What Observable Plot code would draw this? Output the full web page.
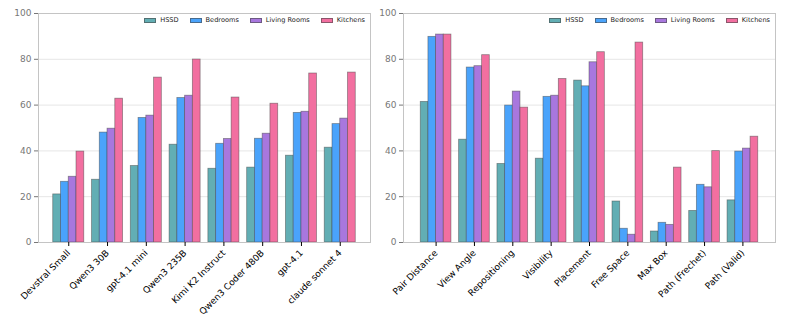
<!DOCTYPE html>
<html>
<head>
<meta charset="utf-8">
<script src="https://cdn.jsdelivr.net/npm/d3@7"></script>
<script src="https://cdn.jsdelivr.net/npm/@observablehq/plot@0.6"></script>
<style>
  html, body { margin: 0; padding: 0; background: #fff; }
  body { width: 785px; height: 327px; overflow: hidden; font-family: "DejaVu Sans", sans-serif; }
  #wrap { display: flex; flex-direction: row; }
  .panel { position: relative; }
  .legend { position: absolute; top: 16px; display: flex; gap: 11px; font-size: 6.6px; color: #222; white-space: nowrap; }
  .legend .item { display: flex; align-items: center; gap: 4px; }
  .legend .sw { width: 12px; height: 5px; box-sizing: border-box; border: 0.6px solid rgba(70,70,70,0.6); }
</style>
</head>
<body>
<div id="wrap"></div>
<script>
// ---- data ----
const series = ["HSSD", "Bedrooms", "Living Rooms", "Kitchens"];
const colors = ["#62aeb4", "#4aa3fb", "#a877de", "#f26fa0"];

const leftCats = ["Devstral Small", "Qwen3 30B", "gpt-4.1 mini", "Qwen3 235B", "Kimi K2 Instruct", "Qwen3 Coder 480B", "gpt-4.1", "claude sonnet 4"];
const leftHSSD     = [21.0, 27.4, 33.4, 42.7, 32.2, 32.7, 37.9, 41.4];
const leftBedrooms = [26.5, 48.0, 54.4, 63.1, 43.1, 45.3, 56.6, 51.7];
const leftLiving   = [28.7, 49.7, 55.4, 64.1, 45.2, 47.5, 57.1, 54.1];
const leftKitchens = [39.7, 62.8, 72.0, 79.9, 63.3, 60.6, 73.8, 74.2];

const rightCats = ["Pair Distance", "View Angle", "Repositioning", "Visibility", "Placement", "Free Space", "Max Box", "Path (Frechet)", "Path (Valid)"];
const rightHSSD     = [61.4, 44.9, 34.3, 36.6, 70.7, 17.9, 4.8, 13.8, 18.4];
const rightBedrooms = [89.8, 76.4, 59.8, 63.6, 68.2, 6.0, 8.6, 25.2, 39.7];
const rightLiving   = [90.8, 77.0, 65.9, 64.1, 78.7, 3.4, 7.7, 24.1, 41.0];
const rightKitchens = [90.8, 81.8, 58.9, 71.4, 83.1, 87.3, 32.7, 39.9, 46.2];

const yTicks = [0, 20, 40, 60, 80, 100];

function buildRows(cats, cols) {
  const rows = [];
  cats.forEach((c, i) => {
    cols.forEach((vals, k) => {
      rows.push({cat: c, i, k, series: series[k], value: vals[i]});
    });
  });
  return rows;
}

function chart(cats, cols, opts) {
  const rows = buildRows(cats, cols);
  const n = cats.length;
  const groupW = 0.8, barW = groupW / series.length;
  return Plot.plot({
    width: opts.width,
    height: 327,
    marginLeft: opts.marginLeft,
    marginRight: opts.marginRight,
    marginTop: 13,
    marginBottom: 85,
    style: {fontFamily: "DejaVu Sans, sans-serif", background: "transparent", overflow: "visible"},
    x: {domain: [-opts.pad, n - 1 + opts.pad]},
    y: {domain: [0, 100]},
    color: {domain: series, range: colors},
    marks: [
      Plot.gridY({ticks: yTicks.slice(1, -1), stroke: "#e6e6e6", strokeOpacity: 1, strokeWidth: 1}),
      Plot.rectY(rows, {
        x1: d => d.i - groupW / 2 + d.k * barW,
        x2: d => d.i - groupW / 2 + (d.k + 1) * barW,
        y: "value",
        fill: "series",
        stroke: "#444",
        strokeOpacity: 0.55,
        strokeWidth: 0.8
      }),
      Plot.frame({stroke: "#c4c4c4", strokeWidth: 1}),
      Plot.axisY({ticks: yTicks, tickSize: 4, tickPadding: 3, color: "#777", fontSize: 9, label: null}),
      Plot.axisX({
        ticks: d3.range(n),
        tickFormat: i => cats[i],
        tickRotate: -45,
        tickSize: 4,
        tickPadding: 5,
        fontSize: 9,
        color: "#000",
        label: null
      })
    ]
  });
}

function legend(rightOffset) {
  const div = document.createElement("div");
  div.className = "legend";
  div.style.right = rightOffset + "px";
  series.forEach((s, k) => {
    const item = document.createElement("div");
    item.className = "item";
    const sw = document.createElement("span");
    sw.className = "sw";
    sw.style.background = colors[k];
    const t = document.createElement("span");
    t.textContent = s;
    item.appendChild(sw);
    item.appendChild(t);
    div.appendChild(item);
  });
  return div;
}

const wrap = document.getElementById("wrap");

const p1 = document.createElement("div");
p1.className = "panel";
p1.appendChild(chart(leftCats, [leftHSSD, leftBedrooms, leftLiving, leftKitchens], {width: 370, marginLeft: 38, marginRight: 0, pad: 0.78}));
p1.appendChild(legend(5));
wrap.appendChild(p1);

const p2 = document.createElement("div");
p2.className = "panel";
p2.appendChild(chart(rightCats, [rightHSSD, rightBedrooms, rightLiving, rightKitchens], {width: 415, marginLeft: 33, marginRight: 10, pad: 0.85}));
p2.appendChild(legend(15));
wrap.appendChild(p2);
</script>
</body>
</html>
